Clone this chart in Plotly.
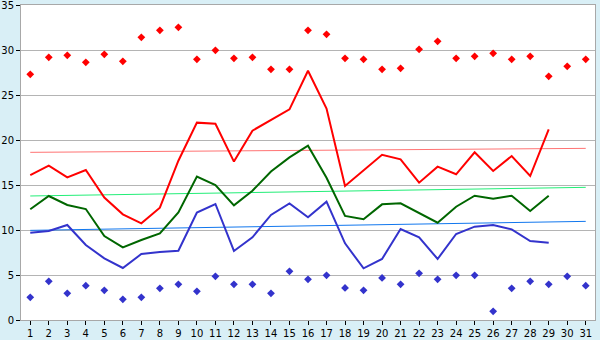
import plotly.graph_objects as go

days = list(range(1, 32))
days_obs = list(range(1, 30))

max_temp = [16.1, 17.15, 15.85, 16.67, 13.6, 11.74, 10.74, 12.48, 17.7, 21.93,
            21.8, 17.6, 21.04, 22.2, 23.4, 27.7, 23.5, 14.9, 16.6, 18.35,
            17.85, 15.26, 17.04, 16.19, 18.63, 16.56, 18.22, 16.0, 21.19]
mean_temp = [12.3, 13.78, 12.78, 12.33, 9.33, 8.07, 8.89, 9.63, 11.96, 15.93,
             15.0, 12.74, 14.37, 16.5, 18.07, 19.37, 15.8, 11.56, 11.19, 12.85,
             12.96, 11.85, 10.81, 12.59, 13.81, 13.48, 13.81, 12.11, 13.81]
min_temp = [9.7, 9.89, 10.56, 8.33, 6.85, 5.78, 7.33, 7.56, 7.7, 11.93,
            12.89, 7.67, 9.19, 11.67, 12.96, 11.41, 13.15, 8.52, 5.74, 6.78,
            10.11, 9.19, 6.78, 9.56, 10.37, 10.56, 10.07, 8.78, 8.59]
record_max = [27.3, 29.19, 29.41, 28.63, 29.52, 28.74, 31.41, 32.19, 32.52, 28.96,
              29.96, 29.07, 29.19, 27.85, 27.85, 32.19, 31.74, 29.07, 28.96, 27.85,
              27.96, 30.07, 30.96, 29.07, 29.3, 29.63, 28.96, 29.3, 27.07, 28.19, 28.96]
record_min = [2.52, 4.3, 2.96, 3.81, 3.3, 2.3, 2.52, 3.52, 3.96, 3.19,
              4.85, 3.96, 3.96, 2.96, 5.41, 4.52, 4.96, 3.56, 3.3, 4.67,
              3.96, 5.19, 4.52, 4.96, 4.96, 0.96, 3.52, 4.3, 3.96, 4.85, 3.81]
trend_days = [1, 31]
trend_max = [18.63, 19.07]
trend_mean = [13.78, 14.74]
trend_min = [9.96, 10.96]
y_ticks = [0, 5, 10, 15, 20, 25, 30, 35]

fig = go.Figure()
fig.add_trace(go.Scatter(x=trend_days, y=trend_max, mode="lines",
                         line=dict(color="#FF7373", width=1)))
fig.add_trace(go.Scatter(x=trend_days, y=trend_mean, mode="lines",
                         line=dict(color="#22EE77", width=1)))
fig.add_trace(go.Scatter(x=trend_days, y=trend_min, mode="lines",
                         line=dict(color="#1177EE", width=1)))
fig.add_trace(go.Scatter(x=days_obs, y=max_temp, mode="lines",
                         line=dict(color="#FF0000", width=2)))
fig.add_trace(go.Scatter(x=days_obs, y=mean_temp, mode="lines",
                         line=dict(color="#006600", width=2)))
fig.add_trace(go.Scatter(x=days_obs, y=min_temp, mode="lines",
                         line=dict(color="#3333CC", width=2)))
fig.add_trace(go.Scatter(x=days, y=record_max, mode="markers",
                         marker=dict(symbol="diamond", size=6, color="#FF0000")))
fig.add_trace(go.Scatter(x=days, y=record_min, mode="markers",
                         marker=dict(symbol="diamond", size=6, color="#3333CC")))

fig.update_layout(
    width=600, height=340,
    margin=dict(l=21, r=5, t=5, b=20, autoexpand=False),
    paper_bgcolor="#D9EFF6",
    plot_bgcolor="#FFFFFF",
    showlegend=False,
    font=dict(family="DejaVu Sans", size=10, color="#000000"),
)
fig.update_xaxes(range=[0.5, 31.5], tickmode="array", tickvals=days,
                 ticktext=[str(d) for d in days], automargin=False,
                 showgrid=False, zeroline=False,
                 showline=True, linecolor="#A8A8A8", linewidth=1, mirror=True,
                 ticks="outside", ticklen=4, tickcolor="#000000",
                 ticklabelstandoff=0, ticklabeloverflow="allow")
fig.update_yaxes(range=[0, 35], tickmode="array", tickvals=y_ticks, automargin=False,
                 showgrid=True, gridcolor="#B4B4B4", gridwidth=1, zeroline=False,
                 showline=True, linecolor="#A8A8A8", linewidth=1, mirror=True,
                 ticks="outside", ticklen=4, tickcolor="#000000",
                 ticklabeloverflow="allow")

fig.write_html("out.html")
